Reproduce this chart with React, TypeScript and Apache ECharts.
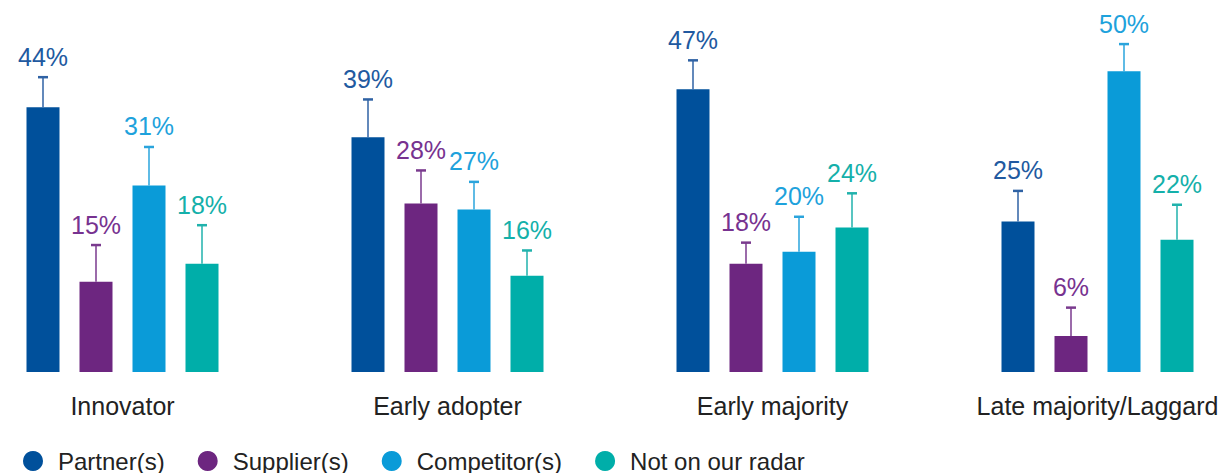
import React, { useEffect, useRef } from "react";
import * as echarts from "echarts";

const categories = ["Innovator", "Early adopter", "Early majority", "Late majority/Laggard"];
const seriesNames = ["Partner(s)", "Supplier(s)", "Competitor(s)", "Not on our radar"];

const partnerValues = [44, 39, 47, 25];
const supplierValues = [15, 28, 18, 6];
const competitorValues = [31, 27, 20, 50];
const radarValues = [18, 16, 24, 22];

// upper end of each error bar (percentage points)
const partnerErrTop = [49, 45.3, 51.8, 30.1];
const supplierErrTop = [21.1, 33.5, 21.5, 10.7];
const competitorErrTop = [37.4, 31.6, 25.8, 54.5];
const radarErrTop = [24.4, 20.2, 29.7, 27.8];

const barColors = ["#00509b", "#6d2680", "#0a9bd8", "#00aea9"];
const labelColors = ["#2159a0", "#773290", "#1ea2dc", "#14b0aa"];
const whiskerColors = ["#2f62a4", "#7a3a8e", "#2aa4dc", "#20b2ac"];

const values = [partnerValues, supplierValues, competitorValues, radarValues];
const errTops = [partnerErrTop, supplierErrTop, competitorErrTop, radarErrTop];

const FONT = "'Liberation Sans', Arial, Helvetica, sans-serif";
const BAR_W = 33;
const BAR_GAP_PX = 20;
const SHIFT = 40;

export default function App() {
  const ref = useRef<HTMLDivElement>(null);

  useEffect(() => {
    if (!ref.current) return;
    const chart = echarts.init(ref.current, null, { renderer: "svg" });

    const barSeries = seriesNames.map((name, i) => ({
      name,
      type: "bar",
      data: values[i],
      barWidth: BAR_W,
      barGap: (BAR_GAP_PX / BAR_W) * 100 + "%",
      itemStyle: { color: barColors[i] },
      silent: true,
    }));

    const errSeries = seriesNames.map((name, i) => ({
      name: "err-" + name,
      type: "custom",
      silent: true,
      data: values[i].map((v, k) => [k, v, errTops[i][k]]),
      encode: { x: 0, y: [1, 2] },
      renderItem: (params: any, api: any) => {
        const k = api.value(0);
        const v = api.value(1);
        const t = api.value(2);
        const base = api.coord([k, v]);
        const top = api.coord([k, t]);
        const off = (i - 1.5) * (BAR_W + BAR_GAP_PX);
        const x = base[0] + off;
        const color = whiskerColors[i];
        return {
          type: "group",
          children: [
            {
              type: "line",
              shape: { x1: x, y1: base[1], x2: x, y2: top[1] },
              style: { stroke: color, lineWidth: 1.5 },
            },
            {
              type: "line",
              shape: { x1: x - 5, y1: top[1], x2: x + 5, y2: top[1] },
              style: { stroke: color, lineWidth: 2.5 },
            },
            {
              type: "text",
              x: x,
              y: top[1] - 8,
              style: {
                text: v + "%",
                fill: labelColors[i],
                font: "25px " + FONT,
                align: "center",
                verticalAlign: "bottom",
              },
            },
          ],
        };
      },
      z: 3,
    }));

    chart.setOption({
      animation: false,
      grid: { left: 0, right: 3, top: 11, bottom: 101, containLabel: false },
      legend: {
        data: seriesNames,
        left: 23 + SHIFT,
        top: 449,
        padding: 0,
        icon: "circle",
        itemWidth: 20,
        itemHeight: 20,
        itemGap: 33,
        selectedMode: false,
        formatter: (n: string) => "{g|}{t|" + n + "}",
        textStyle: {
          fontFamily: FONT,
          fontSize: 24,
          color: "#222",
          rich: {
            g: { width: 10 },
            t: { fontFamily: FONT, fontSize: 24, color: "#222" },
          },
        },
      },
      xAxis: {
        type: "category",
        data: categories,
        axisLine: { show: false },
        axisTick: { show: false },
        axisLabel: { fontFamily: FONT, fontSize: 25, color: "#222", margin: 21 },
      },
      yAxis: { type: "value", min: 0, max: 60, show: false, splitLine: { show: false } },
      series: [...barSeries, ...errSeries],
    });

    return () => chart.dispose();
  }, []);

  return (
    <div
      style={{ position: "absolute", left: 0, top: 0, width: 1223, height: 473, overflow: "hidden", background: "#fff" }}
    >
      <div
        ref={ref}
        style={{ position: "absolute", left: -SHIFT, top: 0, width: 1223 + SHIFT + 40, height: 473 }}
      />
    </div>
  );
}
